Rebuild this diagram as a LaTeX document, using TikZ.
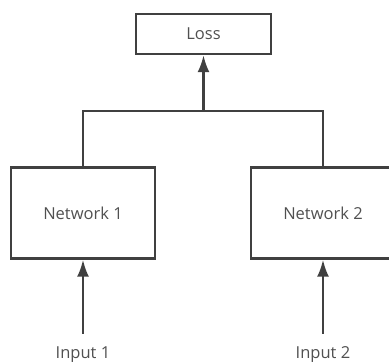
\documentclass[tikz,border=0pt]{standalone}
\usepackage{fontspec}
\setmainfont{Open Sans}
\usetikzlibrary{arrows.meta}
\definecolor{linegray}{HTML}{404040}
\definecolor{textgray}{HTML}{505050}
\tikzset{
    box/.style = {draw = linegray, line width = 2.4pt, text = textgray, font = \fontsize{16.5}{18}\selectfont},
    label/.style = {text = textgray, font = \fontsize{16.5}{18}\selectfont},
    link/.style = {draw = linegray, line width = 2.4pt},
    arrow/.style = {link, -{Latex[length = 17pt, width = 12pt]}}
}
\begin{document}
\begin{tikzpicture}
    [x = 1pt, y = -1pt]
    \useasboundingbox (0, 0) rectangle (389, 364);
    \clip (0, 0) rectangle (389, 364);
    \node[box, minimum width = 135pt, minimum height = 40pt] (loss) at (203.5, 34) {Loss};
    \node[box, minimum width = 144pt, minimum height = 91pt] (net1) at (83, 213) {Network 1};
    \node[box, minimum width = 144pt, minimum height = 91pt] (net2) at (323, 213) {Network 2};
    \node[label] (in1) at (83, 355) {Input 1};
    \node[label] (in2) at (323, 355) {Input 2};
    \coordinate (join) at (203.5, 111);
    \draw[link] (net1.north) |- (join) -| (net2.north);
    \draw[arrow] (join) -- (loss);
    \draw[arrow, shorten <= 10pt] (in1) -- (net1); \draw[arrow, shorten <= 10pt]
    (in2) -- (net2);
\end{tikzpicture}
\end{document}
